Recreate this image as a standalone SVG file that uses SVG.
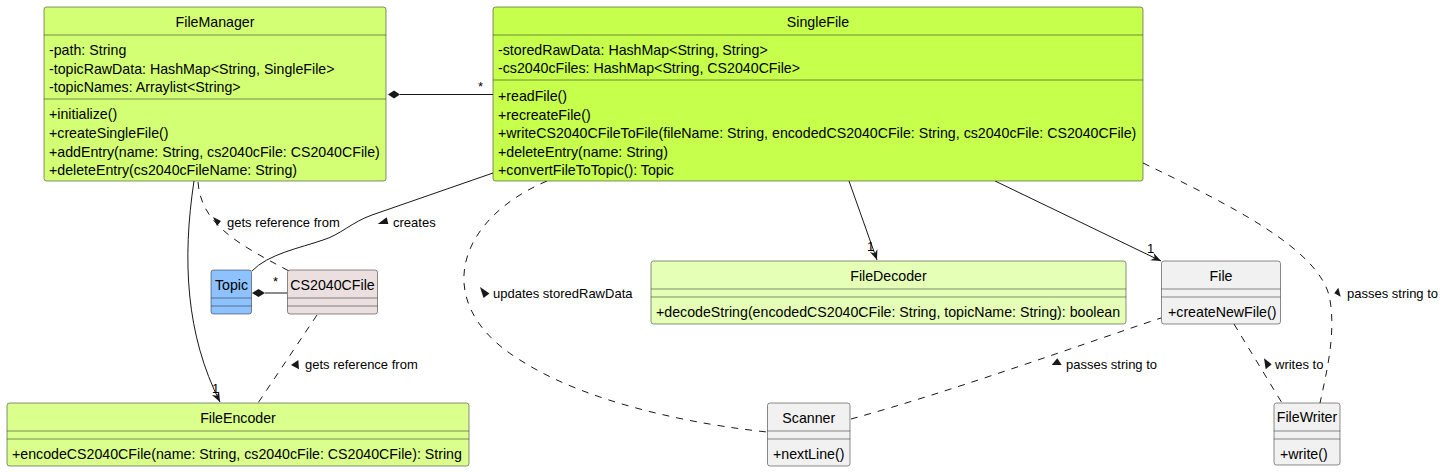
<svg xmlns="http://www.w3.org/2000/svg" width="1447" height="472" viewBox="0 0 1447 472">
<style>
.box{stroke:#181818;stroke-width:0.5}
.sep{stroke:#181818;stroke-width:0.5}
.t{font-family:"Liberation Sans",Arial,sans-serif;font-size:14.2px;fill:#000}
.c{text-anchor:middle}
.lbl{font-family:"Liberation Sans",Arial,sans-serif;font-size:13px;fill:#000}
.ln{fill:none;stroke:#181818;stroke-width:1}
.dash{fill:none;stroke:#181818;stroke-width:1;stroke-dasharray:7,7}
</style>
<defs>
<marker id="arr" viewBox="-1 -6 12 12" refX="10" refY="0" markerWidth="12" markerHeight="12" orient="auto" markerUnits="userSpaceOnUse">
<path d="M0,-4 L10,0 L0,4 L3,0 Z" fill="#181818"/>
</marker>
</defs>

<g id="connectors">
<line class="ln" x1="400" y1="94.5" x2="493" y2="94.5"/>
<polygon points="388,94.5 394,90.5 400,94.5 394,98.5" fill="#181818"/>
<text class="lbl" x="478" y="91">*</text>
<path class="ln" d="M194,181 C182,260 186,335 220,402" marker-end="url(#arr)"/>
<text class="lbl" x="212" y="393">1</text>
<path class="dash" d="M198,182 C201,225 240,245 289,271"/>
<polygon points="213,217 221,221 217,226" fill="#181818"/>
<text class="lbl" x="227" y="227">gets reference from</text>
<path class="ln" d="M493,173 L372,215 C352,222 340,235 323,240 C300,248 268,254 252,271"/>
<polygon points="377.7,224 386.7,217.3 388.3,224" fill="#181818"/>
<text class="lbl" x="393" y="227">creates</text>
<line class="ln" x1="265" y1="293" x2="287" y2="293"/>
<polygon points="252,293 258.5,289 265,293 258.5,297" fill="#181818"/>
<text class="lbl" x="273" y="286">*</text>
<path class="dash" d="M317,315 L258,403"/>
<polygon points="291,365 298.3,360 299,369.3" fill="#181818"/>
<text class="lbl" x="305" y="369">gets reference from</text>
<path class="dash" d="M547,181 C455,220 430,305 520,360 C590,405 700,425 767,432"/>
<polygon points="480,287 489.5,293.5 483.5,298" fill="#181818"/>
<text class="lbl" x="493" y="298">updates storedRawData</text>
<path class="ln" d="M849,181 L877,260" marker-end="url(#arr)"/>
<text class="lbl" x="867" y="251">1</text>
<path class="ln" d="M995,181 L1161,261" marker-end="url(#arr)"/>
<text class="lbl" x="1147" y="253">1</text>
<path class="dash" d="M1143,163 C1230,205 1322,250 1330,300 C1336,335 1326,375 1320,403"/>
<polygon points="1334.3,293.3 1338.3,287.7 1340.7,296.7" fill="#181818"/>
<text class="lbl" x="1347" y="298">passes string to</text>
<path class="dash" d="M851,419 C950,392 1080,345 1161,318"/>
<polygon points="1051.7,365 1057.3,358.3 1061.7,365" fill="#181818"/>
<text class="lbl" x="1066" y="369">passes string to</text>
<path class="dash" d="M1234,324 L1282,403"/>
<polygon points="1264,358.3 1271.7,364.3 1265.7,369.3" fill="#181818"/>
<text class="lbl" x="1275" y="369">writes to</text>
</g>

<g id="FileManager">
<rect class="box" x="44" y="7" width="342" height="174" rx="2.5" fill="#D3FF75"/>
<line class="sep" x1="44" y1="35" x2="386" y2="35"/>
<line class="sep" x1="44" y1="99" x2="386" y2="99"/>
<text class="t c" x="215" y="27">FileManager</text>
<text class="t" x="49" y="55">-path: String</text>
<text class="t" x="49" y="73.5">-topicRawData: HashMap&lt;String, SingleFile&gt;</text>
<text class="t" x="49" y="92">-topicNames: Arraylist&lt;String&gt;</text>
<text class="t" x="49" y="119">+initialize()</text>
<text class="t" x="49" y="138">+createSingleFile()</text>
<text class="t" x="49" y="156.5">+addEntry(name: String, cs2040cFile: CS2040CFile)</text>
<text class="t" x="49" y="175">+deleteEntry(cs2040cFileName: String)</text>
</g>

<g id="SingleFile">
<rect class="box" x="493" y="7" width="650" height="174" rx="2.5" fill="#C6FF4C"/>
<line class="sep" x1="493" y1="35" x2="1143" y2="35"/>
<line class="sep" x1="493" y1="80" x2="1143" y2="80"/>
<text class="t c" x="818" y="27">SingleFile</text>
<text class="t" x="498" y="55">-storedRawData: HashMap&lt;String, String&gt;</text>
<text class="t" x="498" y="73">-cs2040cFiles: HashMap&lt;String, CS2040CFile&gt;</text>
<text class="t" x="498" y="101">+readFile()</text>
<text class="t" x="498" y="119.5">+recreateFile()</text>
<text class="t" x="498" y="138">+writeCS2040CFileToFile(fileName: String, encodedCS2040CFile: String, cs2040cFile: CS2040CFile)</text>
<text class="t" x="498" y="156.5">+deleteEntry(name: String)</text>
<text class="t" x="498" y="175">+convertFileToTopic(): Topic</text>
</g>

<g id="Topic">
<rect class="box" x="211" y="270" width="40.5" height="44" rx="2.5" fill="#8EC2FF"/>
<line class="sep" x1="211" y1="298" x2="251.5" y2="298"/>
<line class="sep" x1="211" y1="306" x2="251.5" y2="306"/>
<text class="t c" x="231.5" y="290">Topic</text>
</g>

<g id="CS2040CFile">
<rect class="box" x="287.5" y="270" width="90" height="44" rx="2.5" fill="#EBE0DF"/>
<line class="sep" x1="287.5" y1="298" x2="377.5" y2="298"/>
<line class="sep" x1="287.5" y1="306" x2="377.5" y2="306"/>
<text class="t c" x="332.5" y="290">CS2040CFile</text>
</g>

<g id="FileDecoder">
<rect class="box" x="651" y="261" width="475" height="63" rx="2.5" fill="#E5FFB7"/>
<line class="sep" x1="651" y1="289" x2="1126" y2="289"/>
<line class="sep" x1="651" y1="297" x2="1126" y2="297"/>
<text class="t c" x="888.5" y="281">FileDecoder</text>
<text class="t" x="656" y="317">+decodeString(encodedCS2040CFile: String, topicName: String): boolean</text>
</g>

<g id="File">
<rect class="box" x="1161.5" y="261" width="119" height="63" rx="2.5" fill="#F1F1F1"/>
<line class="sep" x1="1161.5" y1="289" x2="1280.5" y2="289"/>
<line class="sep" x1="1161.5" y1="297" x2="1280.5" y2="297"/>
<text class="t c" x="1221" y="281">File</text>
<text class="t" x="1168" y="317">+createNewFile()</text>
</g>

<g id="FileEncoder">
<rect class="box" x="7" y="403" width="462" height="63" rx="2.5" fill="#DAFF8D"/>
<line class="sep" x1="7" y1="431" x2="469" y2="431"/>
<line class="sep" x1="7" y1="439" x2="469" y2="439"/>
<text class="t c" x="238" y="423">FileEncoder</text>
<text class="t" x="12" y="459">+encodeCS2040CFile(name: String, cs2040cFile: CS2040CFile): String</text>
</g>

<g id="Scanner">
<rect class="box" x="767.5" y="403" width="82.5" height="63" rx="2.5" fill="#F1F1F1"/>
<line class="sep" x1="767.5" y1="431" x2="850" y2="431"/>
<line class="sep" x1="767.5" y1="439" x2="850" y2="439"/>
<text class="t c" x="808.75" y="423">Scanner</text>
<text class="t" x="773" y="459">+nextLine()</text>
</g>

<g id="FileWriter">
<rect class="box" x="1274" y="403" width="66" height="62" rx="2.5" fill="#F1F1F1"/>
<line class="sep" x1="1274" y1="431" x2="1340" y2="431"/>
<line class="sep" x1="1274" y1="439" x2="1340" y2="439"/>
<text class="t c" x="1307" y="422">FileWriter</text>
<text class="t" x="1280" y="459">+write()</text>
</g>
</svg>
